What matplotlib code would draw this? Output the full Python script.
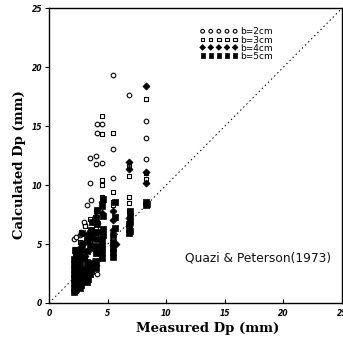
import matplotlib
matplotlib.use("Agg")
import matplotlib.pyplot as plt

# b = 2 cm (open circles)
b2_x = [2.1, 2.3, 2.6, 2.7, 3.1, 3.2, 3.5, 3.6, 4.0, 4.1, 4.1, 4.5, 4.5, 5.5, 5.5, 5.5,
        6.8, 8.3, 8.3, 8.3, 3.5, 4.0, 2.7, 4.1, 2.5, 3.0, 2.2, 3.6, 4.1, 2.9]
b2_y = [5.4, 5.6, 5.8, 6.0, 6.6, 8.3, 10.2, 8.7, 12.5, 15.2, 14.4, 15.2, 11.9, 19.3, 13.1, 10.6,
        17.6, 15.4, 14.0, 12.2, 12.3, 11.8, 4.8, 2.5, 3.1, 6.9, 4.2, 7.0, 7.8, 2.0]

# b = 3 cm (open squares)
b3_x = [4.5, 4.5, 5.5, 4.5, 4.5, 3.5, 4.0, 4.0, 4.0, 5.5, 5.5, 6.8, 6.8, 6.8, 6.8, 6.8,
        8.3, 8.3, 8.3, 3.1, 2.6, 2.2, 2.6, 3.1, 3.5, 4.5, 5.5, 2.6, 2.2, 3.0, 4.5, 5.5]
b3_y = [15.9, 14.3, 14.4, 10.4, 10.0, 7.1, 7.8, 6.4, 5.6, 9.4, 8.6, 9.0, 8.5, 7.8, 11.6, 10.8,
        17.3, 10.5, 11.0, 6.5, 5.2, 4.6, 4.0, 3.8, 5.2, 4.8, 5.5, 2.2, 3.4, 2.5, 9.0, 8.3]

# b = 4 cm (filled diamonds)
b4_x = [8.3, 6.8, 8.3, 8.3, 4.5, 4.5, 4.0, 4.1, 3.5, 3.1, 5.5, 5.5, 5.5, 5.5, 5.7, 6.8,
        6.8, 4.5, 4.0, 3.5, 3.1, 2.7, 2.2, 2.3, 2.6, 3.5, 4.0, 2.2, 2.7, 4.3, 3.6, 6.8]
b4_y = [18.4, 12.0, 11.1, 10.2, 8.6, 7.6, 7.4, 6.8, 6.1, 5.2, 7.8, 7.0, 6.2, 4.9, 5.0, 7.2,
        6.5, 6.0, 4.4, 4.6, 4.0, 3.8, 3.5, 2.5, 3.0, 3.3, 3.2, 1.5, 1.8, 4.2, 5.7, 11.4]

# b = 5 cm (filled squares)
b5_x = [2.1, 2.1, 2.1, 2.1, 2.1, 2.1, 2.1, 2.1, 2.2, 2.2, 2.2, 2.2, 2.2, 2.2, 2.2,
        2.3, 2.3, 2.3, 2.3, 2.3, 2.3,
        2.6, 2.6, 2.6, 2.6, 2.6, 2.6, 2.7, 2.7, 2.7, 2.7, 2.8, 2.8, 2.8, 2.8,
        3.2, 3.2, 3.2, 3.2, 3.2, 3.2, 3.2, 3.3, 3.3,
        3.5, 3.5, 3.5, 3.5, 3.6, 3.6, 3.6, 3.7, 3.7, 3.7,
        4.0, 4.0, 4.0, 4.0, 4.1, 4.1, 4.1, 4.1, 4.0,
        4.5, 4.5, 4.5, 4.5, 4.6, 4.6, 4.6, 4.6, 4.5,
        5.5, 5.5, 5.5, 5.5, 5.5, 5.6, 5.6, 5.6,
        6.8, 6.8, 6.8, 6.9, 6.9, 6.9, 6.9,
        8.3, 8.3, 8.4]
b5_y = [0.9, 1.3, 1.7, 2.1, 2.5, 2.9, 3.3, 3.7, 1.1, 1.5, 1.9, 2.3, 2.7, 3.1, 4.5,
        1.2, 1.6, 2.0, 2.6, 3.0, 4.0,
        1.3, 1.7, 2.1, 2.5, 3.4, 4.3, 1.5, 2.9, 3.8, 4.6, 1.9, 2.4, 5.0, 5.9,
        1.8, 2.2, 2.6, 3.0, 3.5, 4.4, 5.3, 2.0, 5.8,
        2.5, 2.9, 3.4, 4.9, 2.7, 5.5, 6.2, 3.1, 6.0, 6.9,
        3.0, 3.6, 4.2, 4.8, 5.4, 6.0, 6.7, 7.9, 7.2,
        3.8, 4.3, 4.8, 5.3, 5.8, 6.3, 7.4, 8.8, 8.2,
        3.9, 4.3, 4.7, 5.2, 5.8, 6.4, 7.3, 8.6,
        5.9, 6.3, 6.7, 6.1, 6.9, 7.4, 7.8,
        8.3, 8.6, 8.4]

legend_labels = ["b=2cm", "b=3cm", "b=4cm", "b=5cm"]
x_ticks = [0, 5, 10, 15, 20, 25]
y_ticks = [0, 5, 10, 15, 20, 25]

fig = plt.figure(figsize=(3.43, 3.38), dpi=100)
ax = fig.add_axes([0.143, 0.1036, 0.854, 0.872])

ax.plot([0, 25], [0, 25], linestyle=(0, (1.5, 3)), color="black", linewidth=0.7, zorder=1)

ax.scatter(b2_x, b2_y, s=11, marker="o", facecolors="white", edgecolors="black",
           linewidths=0.8, label=legend_labels[0], zorder=3)
ax.scatter(b3_x, b3_y, s=10, marker="s", facecolors="white", edgecolors="black",
           linewidths=0.8, label=legend_labels[1], zorder=3)
ax.scatter(b4_x, b4_y, s=13, marker="D", facecolors="black", edgecolors="black",
           linewidths=0.5, label=legend_labels[2], zorder=3)
ax.scatter(b5_x, b5_y, s=14, marker="s", facecolors="black", edgecolors="black",
           linewidths=0.5, label=legend_labels[3], zorder=3)

ax.set_xlim(0, 25)
ax.set_ylim(0, 25)
ax.set_xticks(x_ticks)
ax.set_yticks(y_ticks)
ax.set_xticklabels([str(t) for t in x_ticks], fontsize=5.5, fontweight="bold", fontstyle="italic")
ax.set_yticklabels([str(t) for t in y_ticks], fontsize=5.5, fontweight="bold", fontstyle="italic")
ax.tick_params(axis="x", direction="in", length=3, width=0.8, pad=4)
ax.tick_params(axis="y", direction="out", length=3, width=0.8, pad=2)
for sp in ax.spines.values():
    sp.set_linewidth(1.0)

ax.set_xlabel("Measured Dp (mm)", family="DejaVu Serif", fontweight="bold", fontsize=9.5)
ax.set_ylabel("Calculated Dp (mm)", family="DejaVu Serif", fontweight="bold", fontsize=9.5)
ax.xaxis.set_label_coords(0.543, -0.063)
ax.yaxis.set_label_coords(-0.078, 0.47)

ax.text(24.1, 3.8, "Quazi & Peterson(1973)", ha="right", va="center", fontsize=8.8,
        family="DejaVu Sans", color="#111111")

ax.legend(loc="upper left", bbox_to_anchor=(0.515, 0.935), scatterpoints=5, scatteryoffsets=[0.5],
          markerscale=0.8, frameon=False, fontsize=6.5, handlelength=4.2, handletextpad=0.3,
          labelspacing=-0.1, borderpad=0, borderaxespad=0)

fig.savefig("out.png", dpi=100)
